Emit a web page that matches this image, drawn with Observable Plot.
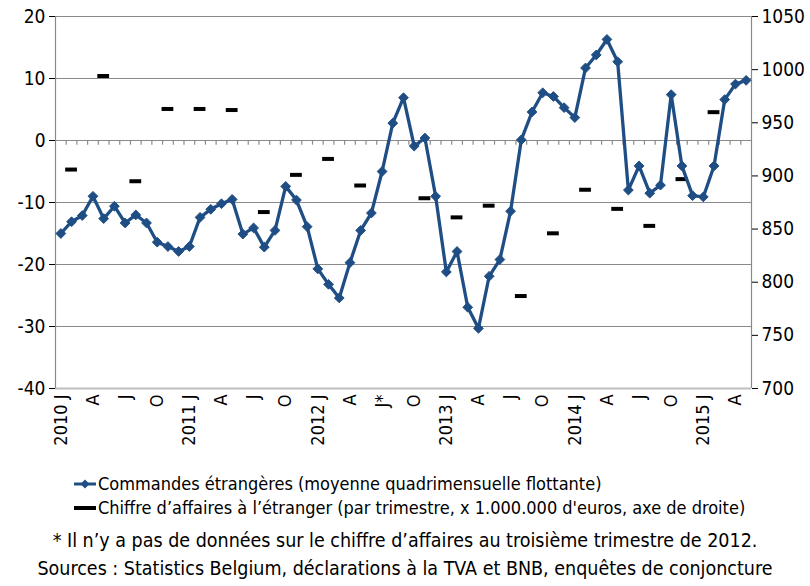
<!DOCTYPE html>
<html><head><meta charset="utf-8">
<script src="https://cdn.jsdelivr.net/npm/d3@7"></script>
<script src="https://cdn.jsdelivr.net/npm/@observablehq/plot@0.6"></script>
<style>
body{margin:0;background:#fff;}
#wrap{width:810px;height:586px;position:relative;overflow:hidden;font-family:"DejaVu Sans Condensed","Liberation Sans Narrow","Arial Narrow",sans-serif;color:#000;}
#chart{position:absolute;left:0;top:0;}
.leg{position:absolute;left:74px;font-size:18px;line-height:24px;white-space:nowrap;display:flex;align-items:center;}
.leg svg{margin-right:2px;}
.foot{position:absolute;left:0;width:810px;text-align:center;font-size:19.5px;line-height:28px;white-space:nowrap;}
</style></head>
<body><div id="wrap"><div id="chart"></div>
<div class="leg" style="top:472px"><svg width="22" height="14"><line x1="0" y1="7" x2="22" y2="7" stroke="#1f4e85" stroke-width="3"/><path d="M11 2.5 L15.5 7 L11 11.5 L6.5 7 Z" fill="#1f4e85"/></svg>Commandes étrangères (moyenne quadrimensuelle flottante)</div>
<div class="leg" style="top:496px"><svg width="22" height="14"><line x1="0" y1="7" x2="22" y2="7" stroke="#000" stroke-width="4"/></svg>Chiffre d’affaires à l’étranger (par trimestre, x 1.000.000 d'euros, axe de droite)</div>
<div class="foot" style="top:527px">* Il n’y a pas de données sur le chiffre d’affaires au troisième trimestre de 2012.</div>
<div class="foot" style="top:555px">Sources : Statistics Belgium, déclarations à la TVA et BNB, enquêtes de conjoncture</div>
</div>
<script>
// Monthly foreign orders, Jan 2010 .. May 2015 (left axis)
const commandes = [-15.0,-13.1,-12.1,-9.0,-12.6,-10.6,-13.3,-12.0,-13.3,-16.4,-17.1,-17.9,
 -17.1,-12.4,-11.1,-10.2,-9.5,-15.1,-14.1,-17.2,-14.5,-7.4,-9.6,-13.9,
 -20.7,-23.2,-25.4,-19.7,-14.5,-11.7,-5.0,2.8,6.9,-0.9,0.4,-9.0,
 -21.2,-17.9,-26.9,-30.3,-21.9,-19.2,-11.4,0.1,4.6,7.7,7.1,5.3,
 3.7,11.7,13.8,16.3,12.7,-8.0,-4.1,-8.5,-7.2,7.4,-4.1,-8.9,
 -9.1,-4.1,6.6,9.1,9.7];
// Quarterly foreign turnover, Q1 2010 .. Q1 2015 (right axis), Q3 2012 missing
const chiffre = [906,994,895,963,963,962,866,901,916,891,null,879,861,872,787,846,887,869,853,897,960];
const xLabels = ["2010 J","A","J","O","2011 J","A","J","O","2012 J","A","J*","O","2013 J","A","J","O","2014 J","A","J","O","2015 J","A"];
const leftTicks = [20,10,0,-10,-20,-30,-40];
const rightTicks = [700,750,800,850,900,950,1000,1050];

const blue = "#1f4e85";
const toLeft = v => -40 + (v - 700) * 60 / 350;
const toRight = d => Math.round(700 + (d + 40) * 350 / 60);
const months = commandes.map((v, i) => ({i, v}));
const quarters = chiffre.map((v, q) => ({q, v})).filter(d => d.v != null);
const nM = commandes.length;

const chart = Plot.plot({
  width: 810, height: 462,
  marginLeft: 55, marginRight: 59, marginTop: 16, marginBottom: 74,
  x: {domain: [0, nM]},
  y: {domain: [-40, 20]},
  style: {fontFamily: '"DejaVu Sans Condensed","Liberation Sans Narrow",sans-serif', fontSize: "18px", color: "#000"},
  marks: [
    Plot.ruleY(leftTicks.filter(d => d !== -40), {stroke: "#8a8a8a", strokeWidth: 1.2, strokeOpacity: 1}),
    Plot.ruleY([-40], {stroke: "#bdbdbd", strokeWidth: 2, strokeOpacity: 1}),
    Plot.ruleX([0, nM], {y1: -40, y2: 20, stroke: "#8a8a8a", strokeWidth: 1.2, strokeOpacity: 1}),
    Plot.ruleX(d3.range(1, nM), {y1: 0, y2: -0.75, stroke: "#8a8a8a", strokeWidth: 1.2, strokeOpacity: 1}),
    Plot.axisY({anchor: "left", label: null, ticks: leftTicks, tickFormat: d => String(d), tickSize: 6, tickPadding: 4, fontSize: 19}),
    Plot.axisY({anchor: "right", label: null, ticks: rightTicks.map(toLeft), tickFormat: d => String(toRight(d)), tickSize: 6, tickPadding: 4, fontSize: 19}),
    Plot.axisX({anchor: "bottom", label: null, ticks: xLabels.map((_, k) => k * 3 + 0.5), tickFormat: d => xLabels[Math.round((d - 0.5) / 3)], tickRotate: -90, tickSize: 0, tickPadding: 6, fontSize: 18}),
    Plot.ruleY(quarters, {y: d => toLeft(d.v), x1: d => d.q * 3 + 0.95, x2: d => d.q * 3 + 2.05, stroke: "#000", strokeWidth: 4}),
    Plot.line(months, {x: d => d.i + 0.5, y: "v", stroke: blue, strokeWidth: 3.3}),
    Plot.dot(months, {x: d => d.i + 0.5, y: "v", symbol: "diamond2", r: 4.4, fill: blue, stroke: blue, strokeWidth: 1})
  ]
});
document.getElementById("chart").appendChild(chart);
</script>
</body></html>
